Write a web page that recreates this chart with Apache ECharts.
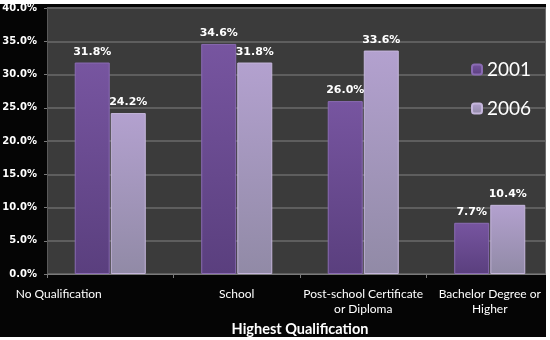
<!DOCTYPE html>
<html><head><meta charset="utf-8">
<script src="https://cdn.jsdelivr.net/npm/echarts@6/dist/echarts.min.js"></script>
<style>html,body{margin:0;padding:0;background:#fff}#c{width:550px;height:340px}</style>
</head><body><div id="c"></div>
<script>
var categories = ['No Qualification', 'School', 'Post-school Certificate\nor Diploma', 'Bachelor Degree or\nHigher'];
var series2001 = [31.8, 34.6, 26.0, 7.7];
var series2006 = [24.2, 31.8, 33.6, 10.4];
var seriesNames = ['2001', '2006'];
var yTicks = [0, 5, 10, 15, 20, 25, 30, 35, 40];

var chart = echarts.init(document.getElementById('c'), null, {renderer: 'canvas'});
function grad(top, bottom) {
  return new echarts.graphic.LinearGradient(0, 0, 0, 1, [{offset: 0, color: top}, {offset: 1, color: bottom}]);
}
var darkFill = grad('#7755a0', '#5a3f7e');
var lightFill = grad('#b3a1cf', '#918aa6');
var catData = categories.map(function (c, i) {
  if (i === 0) return {value: c, textStyle: {padding: [0, 103, 0, 0]}};
  return c;
});
var labelStyle = {show: true, position: 'top', distance: 5, color: '#ffffff', fontFamily: 'DejaVu Sans', fontWeight: 'bold', fontSize: 11,
  formatter: function (p) { return p.value.toFixed(1) + '%'; }};
chart.setOption({
  backgroundColor: '#050505',
  animation: false,
  grid: {left: 47, top: 8, width: 506, height: 266, show: true, backgroundColor: '#3b3b3b', borderWidth: 0,
    containLabel: false, outerBoundsMode: 'none'},
  legend: {
    orient: 'vertical', left: 466, top: 55, itemWidth: 10, itemHeight: 10, itemGap: 20,
    data: seriesNames,
    textStyle: {color: '#ffffff', fontFamily: 'Lato', fontSize: 19}
  },
  xAxis: {
    type: 'category', data: catData,
    name: 'Highest Qualification', nameLocation: 'middle', nameGap: 48,
    nameTextStyle: {color: '#ffffff', fontFamily: 'Lato', fontWeight: 'bold', fontSize: 14.5},
    axisLine: {lineStyle: {color: '#7a7a7a', width: 1}},
    axisTick: {show: true, length: 4, lineStyle: {color: '#7a7a7a'}},
    axisLabel: {interval: 0, color: '#ffffff', fontFamily: 'Lato', fontSize: 12, lineHeight: 15, margin: 13}
  },
  yAxis: {
    type: 'value', min: yTicks[0], max: yTicks[yTicks.length - 1], interval: 5,
    axisLine: {show: true, lineStyle: {color: '#5a5a5a'}},
    axisTick: {show: true, length: 3, lineStyle: {color: '#7a7a7a'}},
    splitLine: {lineStyle: {color: '#5e5e5e', width: 2}},
    axisLabel: {color: '#ffffff', fontFamily: 'DejaVu Sans', fontWeight: 'bold', fontSize: 10, margin: 10,
      formatter: function (v) { return v.toFixed(1) + '%'; }}
  },
  series: [
    {name: seriesNames[0], type: 'bar', data: series2001, barWidth: 35, barGap: '3%',
      itemStyle: {color: darkFill, borderColor: '#8a6bb3', borderWidth: 1}, label: labelStyle},
    {name: seriesNames[1], type: 'bar', data: series2006, barWidth: 35,
      itemStyle: {color: lightFill, borderColor: '#c5b6dc', borderWidth: 1}, label: labelStyle}
  ],
  graphic: [
    {type: 'rect', z: 100, shape: {x: 545, y: 8, width: 1, height: 266}, style: {fill: '#6a6a6a'}},
    {type: 'rect', z: 100, shape: {x: 0, y: 0, width: 550, height: 4}, style: {fill: '#ffffff'}},
    {type: 'rect', z: 100, shape: {x: 546, y: 0, width: 4, height: 340}, style: {fill: '#ffffff'}},
    {type: 'rect', z: 100, shape: {x: 0, y: 337, width: 550, height: 3}, style: {fill: '#ffffff'}}
  ]
});
</script></body></html>
